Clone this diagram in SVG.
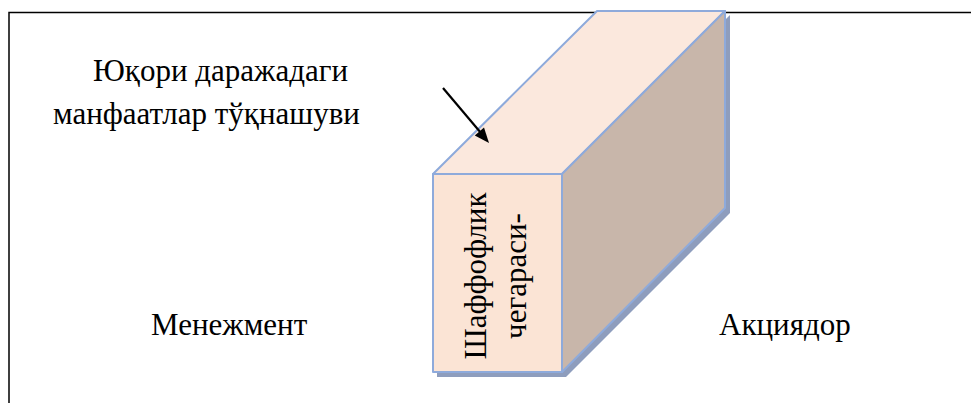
<svg xmlns="http://www.w3.org/2000/svg" width="971" height="403" viewBox="0 0 971 403">
  <style>
    .face { stroke: #8eaadb; stroke-width: 2; stroke-linejoin: round; }
  </style>
  <rect width="971" height="403" fill="#fff"/>
  <polyline points="9,403 9,12.5 971,12.5" fill="none" stroke="#000" stroke-width="1.5"/>
  <g id="block">
    <polygon points="437,377 566,377 730,213 730,15 566,178 437,178" fill="#8e9dbd"/>
    <polygon class="face" points="433,174 597,11 725,11 562,174" fill="#fbe8dd"/>
    <polygon class="face" points="562,174 725,11 725,208 562,372" fill="#c8b6aa"/>
    <rect class="face" x="433" y="174" width="129" height="198" fill="#fbe4d5"/>
    <text font-family="Liberation Serif" font-size="31" transform="translate(486,276) rotate(-90)" text-anchor="middle">Шаффофлик</text>
    <text font-family="Liberation Serif" font-size="31" transform="translate(526,276) rotate(-90)" text-anchor="middle">чегараси-</text>
  </g>
  <g id="conflict">
    <text font-family="Liberation Serif" font-size="31" x="93" y="81">Юқори даражадаги</text>
    <text font-family="Liberation Serif" font-size="31" x="53" y="124">манфаатлар тўқнашуви</text>
  </g>
  <g id="management">
    <text font-family="Liberation Serif" font-size="31" x="151" y="335">Менежмент</text>
  </g>
  <g id="shareholder">
    <text font-family="Liberation Serif" font-size="31" x="719" y="335">Акциядор</text>
  </g>
  <g id="connectors">
    <line x1="443" y1="88" x2="481" y2="133" stroke="#000" stroke-width="2.2"/>
    <polygon points="489,143 474.8,135.4 484,127.6" fill="#000"/>
  </g>
</svg>
